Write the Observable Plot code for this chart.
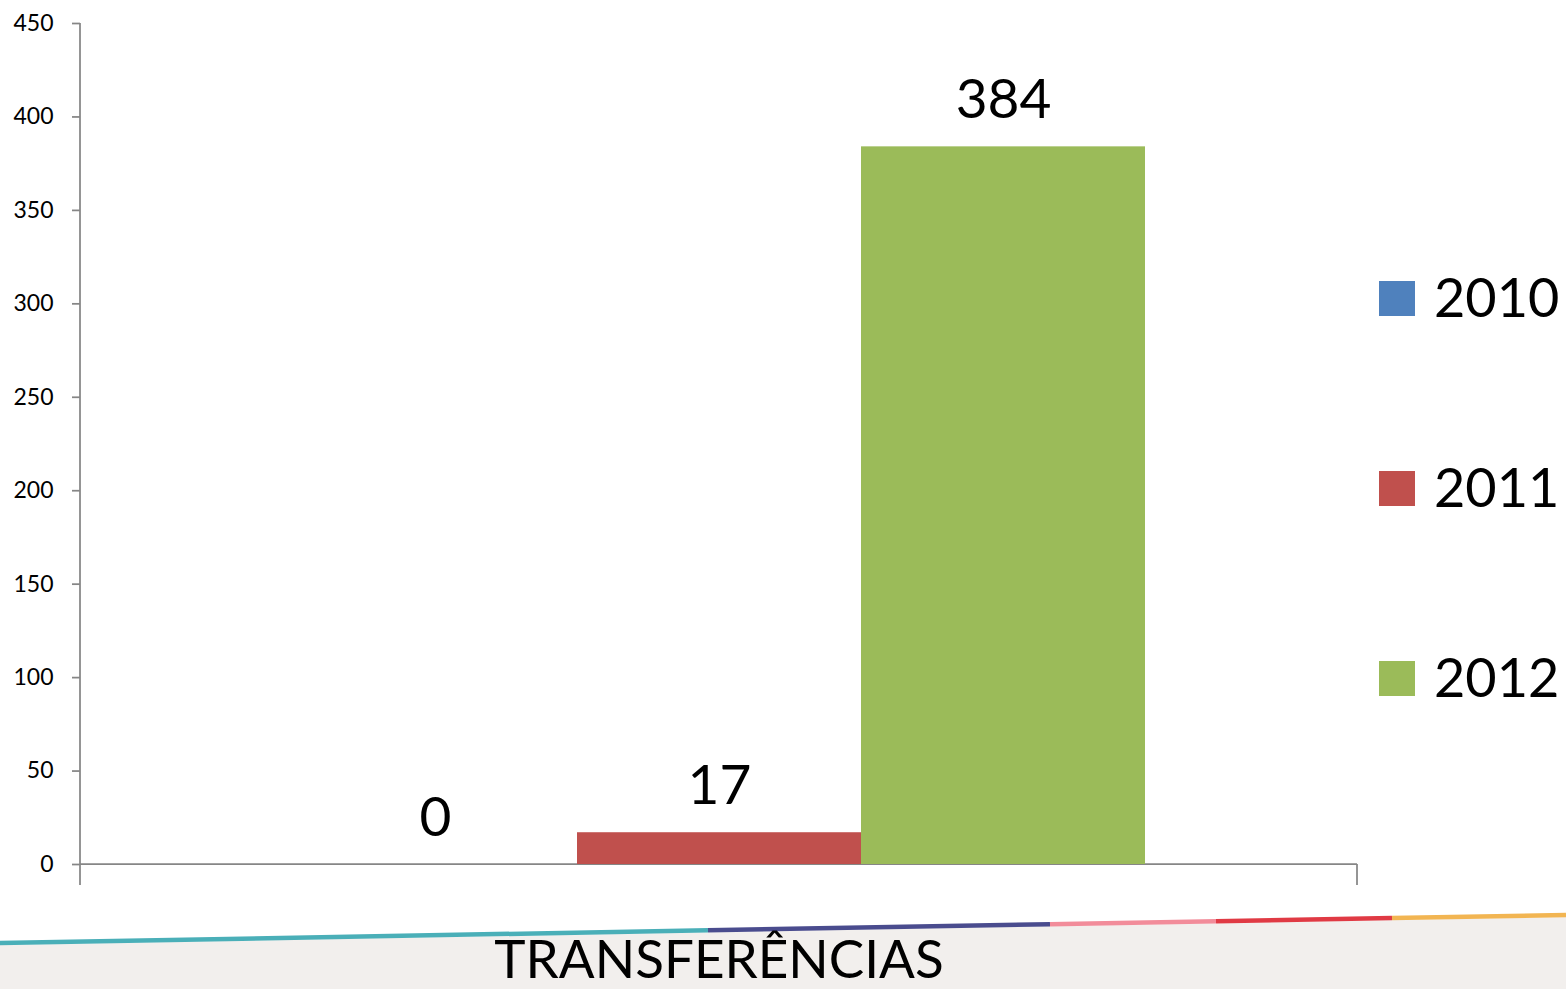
<!DOCTYPE html>
<html>
<head>
<meta charset="utf-8">
<script src="https://cdn.jsdelivr.net/npm/d3@7"></script>
<script src="https://cdn.jsdelivr.net/npm/@observablehq/plot@0.6"></script>
<style>
  html, body { margin: 0; padding: 0; background: white; }
  #wrap { position: relative; width: 1566px; height: 989px; overflow: hidden; }
  #bg, #chart { position: absolute; left: 0; top: 0; }
</style>
</head>
<body>
<div id="wrap"><div id="bg"></div><div id="chart"></div></div>
<script>
// ---- data ----
const categories = ["TRANSFERÊNCIAS"];
const years = ["2010", "2011", "2012"];
const values = [0, 17, 384];
const colors = ["#4f81bd", "#c0504d", "#9bbb59"];
const yTicks = [0, 50, 100, 150, 200, 250, 300, 350, 400, 450];

// decorative footer band (not data)
const bandSegments = [
  {from: 0, to: 708, color: "#4aafb8"},
  {from: 708, to: 1050, color: "#4a4c8e"},
  {from: 1050, to: 1216, color: "#f28c9a"},
  {from: 1216, to: 1392, color: "#e03a44"},
  {from: 1392, to: 1566, color: "#f2b552"}
];

const data = years.map((year, i) => ({category: categories[0], year, value: values[i]}));

// background decoration
const W = 1566, H = 989;
const bandY = x => 943 - 0.0179 * x;
const bg = d3.select("#bg").append("svg").attr("width", W).attr("height", H);
bg.append("polygon")
  .attr("points", `0,${bandY(0) + 2} ${W},${bandY(W) + 2} ${W},${H} 0,${H}`)
  .attr("fill", "#f2efed");
bg.selectAll("line.seg").data(bandSegments).join("line")
  .attr("x1", d => d.from).attr("x2", d => d.to)
  .attr("y1", d => bandY(d.from)).attr("y2", d => bandY(d.to))
  .attr("stroke", d => d.color).attr("stroke-width", 4.5);

// axis frame lines (Excel style, with category boundary ticks)
function axisLines(index, {y}, values, dims) {
  const {width, marginLeft, marginRight, marginTop} = dims;
  const y0 = y(0);
  const g = d3.create("svg:g").attr("stroke", "#868686").attr("stroke-width", 1.75);
  g.append("line").attr("x1", marginLeft).attr("x2", marginLeft).attr("y1", marginTop).attr("y2", y0 + 21);
  g.append("line").attr("x1", marginLeft).attr("x2", width - marginRight).attr("y1", y0).attr("y2", y0);
  g.append("line").attr("x1", width - marginRight).attr("x2", width - marginRight).attr("y1", y0).attr("y2", y0 + 21);
  return g.node();
}

// legend to the right of the plot area
function legend(index, scales, values, dims) {
  const {width, marginRight, marginTop} = dims;
  const x0 = width - marginRight + 22;
  const g = d3.create("svg:g");
  years.forEach((yr, i) => {
    const base = marginTop + 294 + i * 190;
    g.append("rect").attr("x", x0).attr("y", base - 36).attr("width", 36).attr("height", 35)
      .attr("fill", colors[i]);
    g.append("text").attr("x", x0 + 55).attr("y", base)
      .attr("text-anchor", "start")
      .attr("font-size", 54).attr("fill", "black").text(yr);
  });
  return g.node();
}

const chart = Plot.plot({
  width: W,
  height: H,
  marginLeft: 80,
  marginRight: 209,
  marginTop: 23,
  marginBottom: 125,
  style: {background: "transparent", fontFamily: "Lato, sans-serif", color: "black"},
  x: {domain: years, paddingInner: 0, paddingOuter: 0.748, axis: null},
  y: {domain: [0, 450]},
  color: {domain: years, range: colors},
  marks: [
    Plot.axisY({ticks: yTicks, tickSize: 8, tickPadding: 19, fontSize: 23, label: null, stroke: "#868686", strokeWidth: 1.75, fill: "black"}),
    axisLines,
    Plot.barY(data, {x: "year", y: "value", fill: "year"}),
    Plot.text(data, {x: "year", y: "value", text: d => String(d.value), lineAnchor: "bottom", dy: -29, fontSize: 55, fill: "black"}),
    Plot.text(categories, {frameAnchor: "bottom", text: d => d, lineAnchor: "bottom", dy: 113, fontSize: 53, fill: "black"}),
    legend
  ]
});
document.getElementById("chart").append(chart);
</script>
</body>
</html>
